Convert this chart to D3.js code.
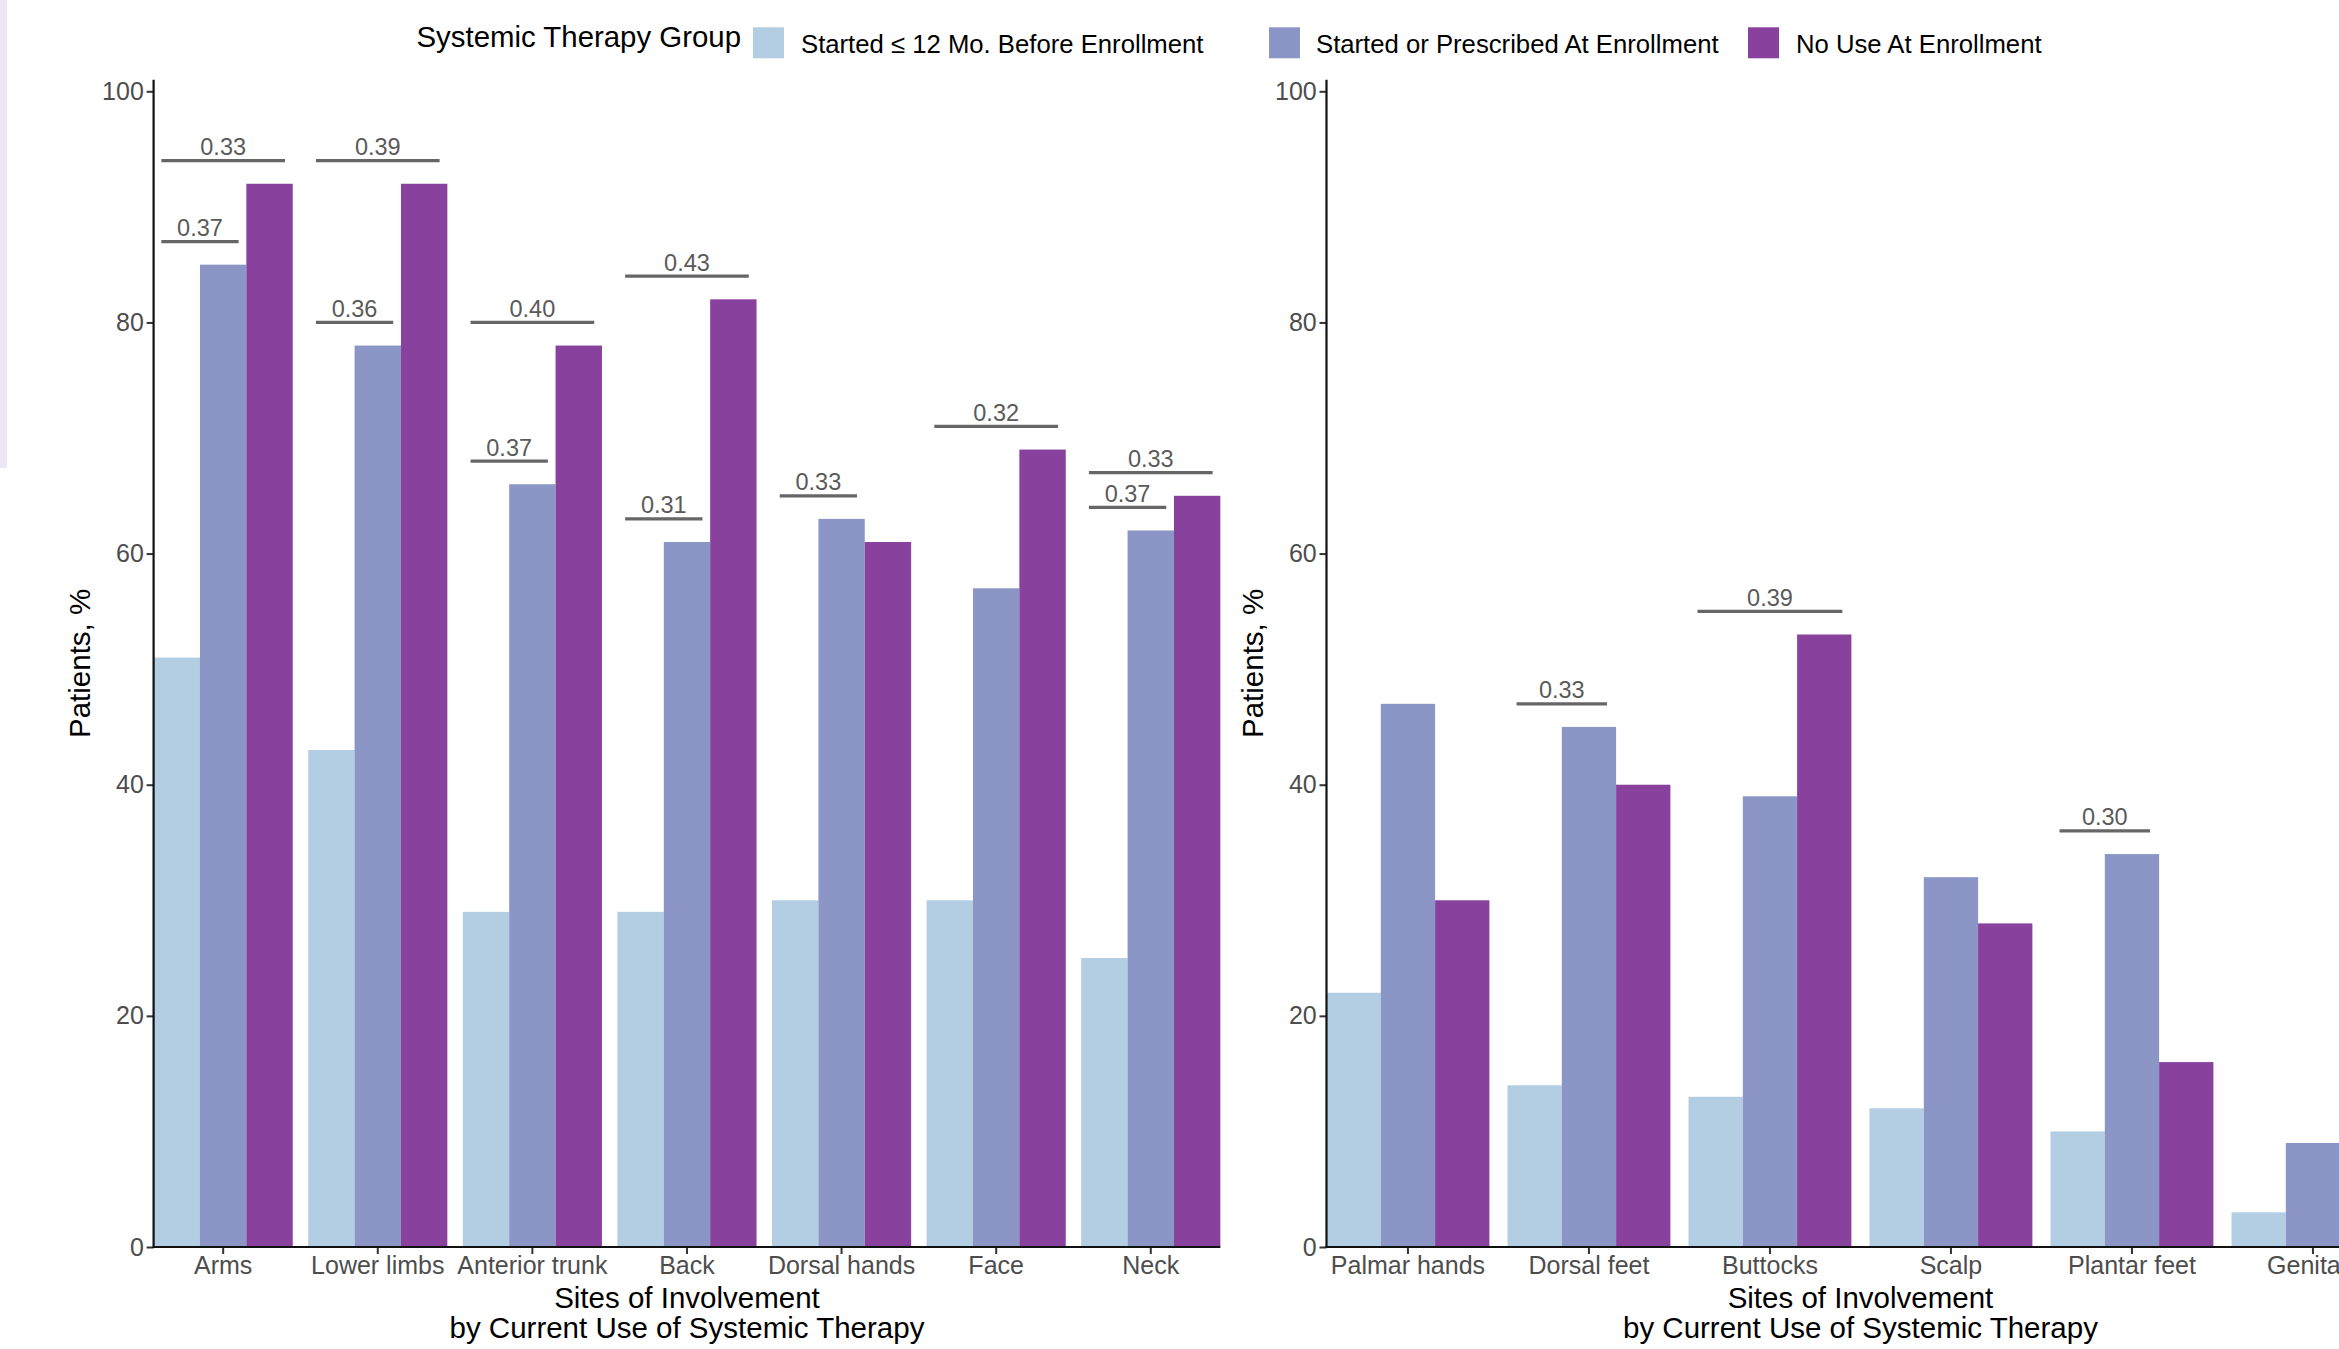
<!DOCTYPE html>
<html>
<head>
<meta charset="utf-8">
<script src="https://cdn.jsdelivr.net/npm/d3@7"></script>
<style>
  html, body { margin: 0; padding: 0; background: #ffffff; overflow: hidden; }
  svg { display: block; font-family: "Liberation Sans", Arial, Helvetica, sans-serif; }
</style>
</head>
<body>
<svg id="chart" width="2339" height="1349"></svg>
<script>
// ---------------- data ----------------
const seriesNames = ["Started \u2264 12 Mo. Before Enrollment", "Started or Prescribed At Enrollment", "No Use At Enrollment"];
const seriesColors = ["#b3cde3", "#8c96c6", "#88419d"];
const legendTitle = "Systemic Therapy Group";

const sitesLeft = ["Arms", "Lower limbs", "Anterior trunk", "Back", "Dorsal hands", "Face", "Neck"];
const startedBeforeLeft = [51, 43, 29, 29, 30, 30, 25];
const startedAtLeft     = [85, 78, 66, 61, 63, 57, 62];
const noUseLeft         = [92, 92, 78, 82, 61, 69, 65];

const sitesRight = ["Palmar hands", "Dorsal feet", "Buttocks", "Scalp", "Plantar feet", "Genitals"];
const startedBeforeRight = [22, 14, 13, 12, 10, 3];
const startedAtRight     = [47, 45, 39, 32, 34, 9];
const noUseRight         = [30, 40, 53, 28, 16, 9];

const yTicks = [0, 20, 40, 60, 80, 100];
const yTitle = "Patients, %";
const xTitleLines = ["Sites of Involvement", "by Current Use of Systemic Therapy"];

// comparisons: site, series index a, series index b, label
const compSiteLeft = ["Arms", "Arms", "Lower limbs", "Lower limbs", "Anterior trunk", "Anterior trunk", "Back", "Back", "Dorsal hands", "Face", "Neck", "Neck"];
const compFromLeft = [0, 0, 0, 0, 0, 0, 0, 0, 0, 0, 0, 0];
const compToLeft   = [1, 2, 1, 2, 1, 2, 1, 2, 1, 2, 1, 2];
const compPLeft    = ["0.37", "0.33", "0.36", "0.39", "0.37", "0.40", "0.31", "0.43", "0.33", "0.32", "0.37", "0.33"];

const compSiteRight = ["Dorsal feet", "Buttocks", "Plantar feet"];
const compFromRight = [0, 0, 0];
const compToRight   = [1, 2, 1];
const compPRight    = ["0.33", "0.39", "0.30"];

// ---------------- layout ----------------
const svg = d3.select("#chart");
const FONT = "'Liberation Sans', Arial, Helvetica, sans-serif";
svg.append("rect").attr("x", 0).attr("y", 0).attr("width", 2339).attr("height", 1349).attr("fill", "#ffffff");
svg.append("rect").attr("x", 0).attr("y", 0).attr("width", 7).attr("height", 468).attr("fill", "#ece7f4");

const yBase = 1247, yAt100 = 91.3;
const y = d3.scaleLinear().domain([0, 100]).range([yBase, yAt100]);
const yAxisTop = y(101.0);
const bracketGap = 2;

const panels = [
  { sites: sitesLeft, vals: [startedBeforeLeft, startedAtLeft, noUseLeft],
    comps: { site: compSiteLeft, from: compFromLeft, to: compToLeft, p: compPLeft },
    x0: 153.6, step: 154.6, yTitleX: 90 },
  { sites: sitesRight, vals: [startedBeforeRight, startedAtRight, noUseRight],
    comps: { site: compSiteRight, from: compFromRight, to: compToRight, p: compPRight },
    x0: 1326.5, step: 181, yTitleX: 1263 }
];

panels.forEach(P => {
  const n = P.sites.length;
  const x1 = P.x0 + (n - 0.1) * P.step;
  const x = d3.scaleBand().domain(P.sites).range([P.x0, x1]).paddingInner(0.1).paddingOuter(0);
  const xs = d3.scaleBand().domain(d3.range(seriesNames.length)).range([0, x.bandwidth()]).padding(0);
  const g = svg.append("g");

  // bars
  P.vals.forEach((arr, si) => {
    g.append("g").selectAll("rect").data(P.sites).join("rect")
      .attr("x", d => x(d) + xs(si))
      .attr("y", (d, i) => y(arr[i]))
      .attr("width", xs.bandwidth())
      .attr("height", (d, i) => y(0) - y(arr[i]))
      .attr("fill", seriesColors[si]);
  });

  // significance brackets
  const comps = P.comps.site.map((s, k) => ({ site: s, a: P.comps.from[k], b: P.comps.to[k], p: P.comps.p[k] }));
  const bg = g.append("g");
  comps.forEach(c => {
    const i = P.sites.indexOf(c.site);
    const level = Math.max(P.vals[c.a][i], P.vals[c.b][i]) + bracketGap;
    const xa = x(c.site) + xs(c.a) + xs.bandwidth() / 2 - 0.1 * x.step();
    const xb = x(c.site) + xs(c.b) + xs.bandwidth() / 2 + 0.1 * x.step();
    bg.append("line")
      .attr("x1", xa).attr("x2", xb).attr("y1", y(level)).attr("y2", y(level))
      .attr("stroke", "#666666").attr("stroke-width", 3.2);
    bg.append("text")
      .attr("x", (xa + xb) / 2).attr("y", y(level) - 5.5)
      .attr("text-anchor", "middle")
      .attr("font-family", FONT).attr("font-size", 23.5).attr("fill", "#5a5a5a")
      .text(c.p);
  });

  // y axis
  const ya = g.append("g").attr("transform", `translate(${P.x0},0)`)
    .call(d3.axisLeft(y).tickValues(yTicks).tickSize(7).tickPadding(2.8));
  ya.select(".domain").remove();
  ya.selectAll(".tick line").attr("stroke", "#333333").attr("stroke-width", 2);
  ya.selectAll(".tick text").attr("font-family", FONT).attr("font-size", 25).attr("fill", "#4d4d4d");
  g.append("line").attr("x1", P.x0).attr("x2", P.x0).attr("y1", yAxisTop).attr("y2", yBase + 1)
    .attr("stroke", "#111111").attr("stroke-width", 2.2);

  // x axis
  const xa = g.append("g").attr("transform", `translate(0,${yBase})`)
    .call(d3.axisBottom(x).tickSize(7).tickPadding(2.5));
  xa.select(".domain").remove();
  xa.selectAll(".tick line").attr("stroke", "#333333").attr("stroke-width", 2);
  xa.selectAll(".tick text").attr("font-family", FONT).attr("font-size", 25).attr("fill", "#4d4d4d");
  g.append("line").attr("x1", P.x0 - 1).attr("x2", x1).attr("y1", yBase).attr("y2", yBase)
    .attr("stroke", "#111111").attr("stroke-width", 2.2);

  // axis titles
  const cx = (P.x0 + x1) / 2;
  xTitleLines.forEach((t, k) => {
    g.append("text").attr("x", cx).attr("y", 1308 + k * 30)
      .attr("text-anchor", "middle").attr("font-family", FONT).attr("font-size", 29.5).attr("fill", "#000000")
      .text(t);
  });
  g.append("text")
    .attr("transform", `translate(${P.yTitleX},${(yAxisTop + yBase) / 2}) rotate(-90)`)
    .attr("text-anchor", "middle").attr("font-family", FONT).attr("font-size", 29.5).attr("fill", "#000000")
    .text(yTitle);
});

// ---------------- legend ----------------
const legend = svg.append("g");
legend.append("text").attr("x", 416.5).attr("y", 47.3)
  .attr("font-family", FONT).attr("font-size", 29.4).attr("fill", "#000000").text(legendTitle);
const keyX = [753, 1269, 1748];
const labelX = [801, 1316, 1796];
seriesNames.forEach((s, i) => {
  legend.append("rect").attr("x", keyX[i]).attr("y", 27.3).attr("width", 31).attr("height", 31)
    .attr("fill", seriesColors[i]);
  legend.append("text").attr("x", labelX[i]).attr("y", 52.5)
    .attr("font-family", FONT).attr("font-size", 25.7).attr("fill", "#000000").text(s);
});
</script>
</body>
</html>
